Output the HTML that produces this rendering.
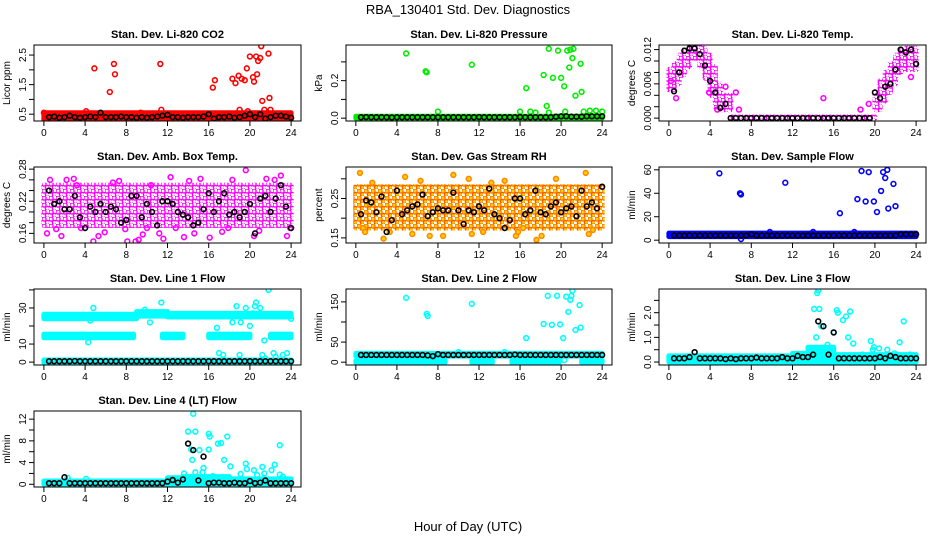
<!DOCTYPE html>
<html><head><meta charset="utf-8"><style>
body{margin:0;background:#fff;}
svg{display:block;font-family:"Liberation Sans",Arial,sans-serif;}
</style></head><body>
<svg id="chart" width="936" height="540" viewBox="0 0 936 540">
<defs>
<pattern id="pat-mag" width="7" height="7" patternUnits="userSpaceOnUse">
<circle cx="2" cy="2" r="2.1" fill="none" stroke="#ff00ff" stroke-width="1.4"/>
<circle cx="5.5" cy="5.5" r="2.1" fill="none" stroke="#ff00ff" stroke-width="1.4"/>
</pattern>
<pattern id="pat-org" width="7" height="7" patternUnits="userSpaceOnUse">
<circle cx="2" cy="2" r="2.1" fill="#ffd000" stroke="#ff7a00" stroke-width="1.4"/>
<circle cx="5.5" cy="5.5" r="2.1" fill="#ffd000" stroke="#ff5a00" stroke-width="1.4"/>
</pattern>
</defs>
<text x="468" y="14" text-anchor="middle" font-size="13">RBA_130401  Std. Dev. Diagnostics</text>
<text x="468" y="531" text-anchor="middle" font-size="13">Hour of Day (UTC)</text>
</svg>
<script>
// ---- data ----
const xTicks = [0,4,8,12,16,20,24];
const p1Band = [[0,24,0.3,0.55]];
const p1Out = [[4.9,2.05],[6.4,1.25],[6.8,2.2],[6.9,1.85],[11.3,2.2],[11.4,0.65],[16.4,1.4],[16.6,1.65],[18.3,1.7],[18.6,1.55],[18.9,1.8],[19.2,1.7],[19.5,1.65],[19.7,2.05],[20.0,2.45],[20.3,1.75],[20.4,1.6],[20.6,2.45],[20.7,1.85],[20.8,2.3],[21.0,2.4],[21.1,2.8],[21.2,0.95],[21.4,0.65],[21.8,2.55],[21.9,1.05],[22.0,0.65],[19.0,0.65],[19.8,0.6],[4.1,0.6],[9.4,0.55],[0,0.55]];
const p1Black = [0.4,0.42,0.38,0.4,0.45,0.4,0.38,0.4,0.42,0.4,0.55,0.4,0.4,0.4,0.42,0.4,0.4,0.38,0.4,0.38,0.4,0.42,0.45,0.48,0.4,0.4,0.38,0.4,0.4,0.4,0.42,0.5,0.35,0.4,0.4,0.42,0.38,0.4,0.45,0.5,0.4,0.5,0.35,0.4,0.45,0.45,0.42,0.38];

const p2Band = [[0,24,0,0.01]];
const p2Out = [[4.9,0.345],[6.8,0.25],[6.9,0.245],[8.0,0.035],[11.3,0.285],[16.0,0.035],[16.6,0.16],[17.0,0.035],[17.5,0.03],[18.3,0.23],[18.6,0.065],[18.8,0.37],[19.2,0.215],[19.7,0.36],[20.0,0.215],[20.3,0.17],[20.6,0.36],[20.8,0.27],[20.9,0.365],[21.1,0.32],[21.2,0.37],[21.4,0.12],[21.9,0.29],[22.0,0.14],[22.2,0.035],[22.8,0.04],[23.4,0.04],[24,0.035],[18.8,0.03],[20.4,0.035]];
const p2Black = [0.005,0.006,0.005,0.005,0.005,0.005,0.004,0.005,0.005,0.005,0.005,0.005,0.005,0.005,0.005,0.005,0.005,0.005,0.005,0.005,0.005,0.005,0.005,0.006,0.005,0.005,0.005,0.005,0.005,0.005,0.005,0.006,0.005,0.005,0.005,0.005,0.005,0.005,0.008,0.01,0.01,0.008,0.008,0.008,0.01,0.01,0.01,0.01];

const p3Band = [[0,0.5,0.005,0.0085],[0.5,1,0.006,0.0095],[1,1.5,0.0075,0.011],[1.5,2,0.009,0.012],[2,2.5,0.0105,0.0125],[2.5,3,0.0105,0.0125],[3,3.5,0.009,0.0122],[3.5,4,0.007,0.011],[4,4.5,0.004,0.009],[4.5,5,0.002,0.006],[5,6,0.0015,0.004],[6,20,0,0.0002],[20,20.5,0.0015,0.004],[20.5,21,0.003,0.0065],[21,21.5,0.0045,0.008],[21.5,22,0.006,0.0095],[22,22.5,0.008,0.011],[22.5,23,0.0085,0.012],[23,24,0.0085,0.0122]];
const p3Out = [[0.7,0.0035],[4.7,0.0015],[5.5,0.0055],[6.5,0.0045],[6.8,0.0015],[15,0.0035],[3.9,0.0045],[18.6,0.0015],[19.4,0.0025],[23.5,0.0072],[0.2,0.0065]];
const p3Black = [0.0047,0.008,0.0118,0.0122,0.0122,0.0112,0.0092,0.0065,0.0045,0.0018,0.0025,0,0,0,0,0,0,0,0,0,0,0,0,0,0,0,0,0,0,0,0,0,0,0,0,0,0,0,0,0.0045,0.0035,0.0055,0.006,0.0085,0.012,0.0115,0.012,0.0095];

const p4Band = [[0,24,0.175,0.25]];
const p4Out = [[0.3,0.16],[0.6,0.26],[1.2,0.168],[2.2,0.26],[2.9,0.262],[3.2,0.25],[4.8,0.145],[5.3,0.155],[5.9,0.162],[6.7,0.255],[7.3,0.258],[8.1,0.145],[8.9,0.145],[9.2,0.148],[9.6,0.158],[10.4,0.25],[11.2,0.16],[11.6,0.15],[12.3,0.265],[13.6,0.153],[14.1,0.258],[14.6,0.16],[15.2,0.262],[16.1,0.152],[17.3,0.163],[18.3,0.26],[19.6,0.278],[20.4,0.155],[21.6,0.262],[22.4,0.26],[23.0,0.268],[23.6,0.155],[23.9,0.17],[1.7,0.155],[7.9,0.168],[12.8,0.17],[17.9,0.17],[10,0.17],[3.6,0.17],[20.9,0.165]];
const p4Black = [0.24,0.215,0.22,0.205,0.205,0.23,0.19,0.17,0.21,0.2,0.215,0.2,0.21,0.205,0.18,0.185,0.23,0.23,0.19,0.215,0.2,0.175,0.22,0.22,0.215,0.2,0.195,0.19,0.175,0.18,0.205,0.235,0.2,0.22,0.235,0.195,0.2,0.19,0.2,0.215,0.16,0.225,0.23,0.2,0.225,0.25,0.21,0.17];

const p5Band = [[0,24,0.175,0.28]];
const p5Out = [[0.4,0.315],[0.7,0.175],[0.9,0.165],[2.7,0.148],[3.3,0.165],[4.8,0.305],[5.5,0.16],[7.2,0.155],[8.5,0.155],[9.5,0.31],[11,0.3],[11.3,0.16],[12.4,0.165],[13.2,0.29],[14.5,0.295],[15.6,0.155],[15.8,0.165],[16.3,0.175],[17.6,0.145],[18.1,0.155],[19.5,0.3],[22.4,0.315],[22.7,0.16],[23.1,0.17],[1.6,0.29],[6.3,0.295]];
const p5Black = [0.21,0.245,0.24,0.215,0.255,0.165,0.195,0.27,0.21,0.22,0.23,0.235,0.26,0.205,0.215,0.225,0.22,0.22,0.265,0.22,0.185,0.22,0.215,0.23,0.22,0.275,0.21,0.2,0.175,0.195,0.25,0.25,0.21,0.22,0.27,0.215,0.21,0.23,0.24,0.215,0.225,0.23,0.205,0.27,0.23,0.24,0.225,0.28];

const p6Band = [[0,24,3,6]];
const p6Out = [[4.9,57],[6.9,40],[7,39],[11.3,49],[16.6,23],[18.3,35],[18.7,59],[19.1,33],[19.4,58],[19.9,33],[20.2,24],[20.6,42],[20.8,58],[21.0,53],[21.2,60],[21.3,27],[21.8,48],[22.0,29],[7,1],[9.8,7],[14,7],[18,7]];
const p6Black = [4,4,4,4,4,4,4,4,4,4,4,4,4,4,4,5,4,4,4,4,4,4,4,4,4,4,4,4,4,4,4,4,4,4,4,4,4,4,4,4,4,4,4,4,5,5,5,5];

const p7Band = [[0,24,-0.3,1.2],[0,9,24,26.5],[9,12,25.5,28],[12,24,25,27],[0,8.7,13.5,15.5],[11.5,13.5,13.5,15.5],[16,20,13.5,15.5],[22,24,13.5,15.5]];
const p7Out = [[4.8,30],[4.5,23],[4.3,11],[9.8,29],[10.3,22],[11.4,33],[16.8,19],[17,5],[17.4,4],[18.3,22],[18.7,31],[19.0,4],[19.1,22],[19.6,30],[20.0,20],[20.3,27],[20.5,31],[20.6,33],[21.0,30],[21.2,4],[21.4,12],[21.8,40],[22.3,5],[22.5,3],[23.2,4],[23.6,5],[24,24],[21.5,2]];
const p7Black = [0.5,0.5,0.5,0.5,0.5,0.6,0.5,0.5,0.5,0.5,0.5,0.5,0.5,0.5,0.5,0.5,0.5,0.5,0.5,0.5,0.5,0.5,0.5,0.5,0.5,0.5,0.5,0.5,0.5,0.5,0.5,0.5,0.5,0.5,0.5,0.5,0.5,0.5,0.5,0.5,0.5,0.5,0.5,0.5,0.5,0.5,0.5,0.5];

const p8Band = [[0,24,15,22],[0,8.7,-1,4],[11.3,13.3,-1,4],[15.2,19.8,-1,4],[22,24,-1,4]];
const p8Out = [[4.9,160],[6.9,120],[7,115],[11.3,145],[16.6,60],[18.3,95],[18.7,165],[19.1,93],[19.6,165],[19.9,94],[20.2,60],[20.5,163],[20.7,125],[20.9,155],[21.0,165],[21.1,178],[21.4,80],[21.8,142],[21.9,86],[20.3,5],[10,25],[14.5,25]];
const p8Black = [18,18,18,18,18,18,18,18,18,18,18,18,18,17,15,20,18,18,18,18,18,18,18,18,18,18,18,18,18,18,19,18,18,18,18,18,18,18,18,18,18,18,18,18,18,18,18,18];

const p9Band = [[0,12,0,0.25],[12,13.5,0,0.35],[13.5,16,0,0.6],[16,24,0,0.3]];
const p9Out = [[14.1,2.15],[14.4,2.8],[14.5,2.9],[14.3,1.0],[14.6,2.15],[14.8,1.45],[15.2,0.55],[15.4,0.7],[16.0,1.2],[16.3,2.1],[16.4,2.0],[16.9,1.7],[17.2,1.85],[17.4,1.0],[17.6,2.05],[17.9,0.75],[19.6,0.85],[19.9,0.6],[20.4,0.55],[21.2,0.5],[22.4,0.8],[22.8,1.65],[23.4,0.3],[13.8,0.45],[19.8,0.5],[21.9,0.35],[18.8,0.3]];
const p9Black = [0.15,0.15,0.15,0.2,0.4,0.15,0.15,0.15,0.15,0.15,0.12,0.15,0.12,0.15,0.15,0.15,0.18,0.15,0.15,0.15,0.15,0.2,0.15,0.15,0.25,0.2,0.2,0.3,1.65,1.45,0.3,1.2,0.15,0.15,0.15,0.15,0.15,0.15,0.15,0.15,0.2,0.15,0.25,0.2,0.15,0.15,0.15,0.15];

const p10Band = [[0,12,0,0.6],[12,13.5,0,1.2],[13.5,18,0,1.4],[18,24,0,1.0]];
const p10Out = [[14.0,9.7],[14.3,6.4],[14.4,4.5],[14.5,13],[14.7,9.7],[14.7,2.2],[15.1,6.3],[15.4,2.2],[15.5,3.0],[16.0,6.4],[16.0,9.3],[16.1,8.8],[16.4,1.5],[16.9,7.5],[17.2,7.6],[17.5,4.5],[17.8,8.8],[18.1,3.3],[19.1,1.9],[19.6,3.8],[19.7,2.8],[20.4,2.6],[20.7,1.7],[21.2,3.2],[21.4,2.0],[22.1,2.6],[22.4,3.6],[22.9,7.2],[23.2,1.4],[22.9,1.8],[2.3,1.2],[4.1,1.0],[13.6,2.0]];
const p10Black = [0.2,0.2,0.2,1.3,0.2,0.2,0.2,0.2,0.2,0.2,0.2,0.2,0.2,0.2,0.2,0.2,0.2,0.2,0.2,0.2,0.2,0.2,0.2,0.5,0.8,0.3,0.9,7.5,6.3,0.7,5.1,0.2,0.3,0.3,0.2,0.2,0.3,0.2,0.2,0.6,0.2,0.3,0.7,0.2,0.2,0.2,0.2,0.2];

// ---- layout ----
const cols = [[34,301],[346,612],[659,926]];
const rows = [[45,121],[167,243],[289,365],[411,487]];
const panels = [
 {id:'co2',title:'Stan. Dev. Li-820 CO2',yl:'Licor ppm',col:0,row:0,ymin:0.27,ymax:2.84,ticks:[0.5,1,1.5,2,2.5],labs:['0.5','','1.5','','2.5'],color:'#ff0000',band:p1Band,out:p1Out,black:p1Black},
 {id:'pressure',title:'Stan. Dev. Li-820 Pressure',yl:'kPa',col:1,row:0,ymin:-0.015,ymax:0.39,ticks:[0,0.1,0.2,0.3],labs:['0.0','','0.2',''],color:'#00ee00',band:p2Band,out:p2Out,black:p2Black},
 {id:'temp',title:'Stan. Dev. Li-820 Temp.',yl:'degrees C',col:2,row:0,ymin:-0.0005,ymax:0.0128,ticks:[0,0.002,0.004,0.006,0.008,0.01,0.012],labs:['0.000','','','0.006','','','0.012'],color:'#ff00ff',fill:'url(#pat-mag)',band:p3Band,out:p3Out,black:p3Black},
 {id:'ambbox',title:'Stan. Dev. Amb. Box Temp.',yl:'degrees C',col:0,row:1,ymin:0.142,ymax:0.284,ticks:[0.16,0.18,0.2,0.22,0.24,0.26,0.28],labs:['0.16','','','0.22','','','0.28'],color:'#ff00ff',fill:'url(#pat-mag)',band:p4Band,out:p4Out,black:p4Black},
 {id:'rh',title:'Stan. Dev. Gas Stream RH',yl:'percent',col:1,row:1,ymin:0.137,ymax:0.33,ticks:[0.15,0.2,0.25,0.3],labs:['0.15','','0.25',''],color:'#ff8a00',fill:'url(#pat-org)',band:p5Band,out:p5Out,black:p5Black},
 {id:'sampleflow',title:'Stan. Dev. Sample Flow',yl:'ml/min',col:2,row:1,ymin:-2.4,ymax:62.4,ticks:[0,20,40,60],labs:['0','20','40','60'],color:'#0000ff',band:p6Band,out:p6Out,black:p6Black},
 {id:'line1',title:'Stan. Dev. Line 1 Flow',yl:'ml/min',col:0,row:2,ymin:-1.6,ymax:40.5,ticks:[0,10,20,30,40],labs:['0','10','','30',''],color:'#00ffff',band:p7Band,out:p7Out,black:p7Black},
 {id:'line2',title:'Stan. Dev. Line 2 Flow',yl:'ml/min',col:1,row:2,ymin:-7,ymax:182,ticks:[0,50,100,150],labs:['0','50','','150'],color:'#00ffff',band:p8Band,out:p8Out,black:p8Black},
 {id:'line3',title:'Stan. Dev. Line 3 Flow',yl:'ml/min',col:2,row:2,ymin:-0.12,ymax:2.96,ticks:[0,0.5,1,1.5,2,2.5],labs:['0.0','','1.0','','2.0',''],color:'#00ffff',band:p9Band,out:p9Out,black:p9Black},
 {id:'line4',title:'Stan. Dev. Line 4 (LT) Flow',yl:'ml/min',col:0,row:3,ymin:-0.5,ymax:13.5,ticks:[0,2,4,6,8,10,12],labs:['0','','4','','8','','12'],color:'#00ffff',band:p10Band,out:p10Out,black:p10Black}
];

const NS='http://www.w3.org/2000/svg';
const svg=document.getElementById('chart');
function mk(tag,attrs,parent,text){const e=document.createElementNS(NS,tag);for(const k in attrs)e.setAttribute(k,attrs[k]);if(text!==undefined)e.textContent=text;parent.appendChild(e);return e;}

panels.forEach(p=>{
 const [L,R]=cols[p.col],[T,B]=rows[p.row];
 const xMin=-0.96,xMax=24.96;
 const sx=v=>L+(v-xMin)/(xMax-xMin)*(R-L);
 const sy=v=>B-(v-p.ymin)/(p.ymax-p.ymin)*(B-T);
 const g=mk('g',{},svg);
 
 
 const t=mk('text',{x:(L+R)/2,y:T-7,'text-anchor':'middle','font-size':'11','font-weight':'bold'},g,p.title);
 
 
 const clip=mk('clipPath',{id:'c'+p.id},g);
 mk('rect',{x:L,y:T,width:R-L,height:B-T},clip);
 const marks=mk('g',{'clip-path':'url(#c'+p.id+')'},g);
 
 
 p.band.forEach(b=>{
  const x0=sx(b[0]),x1=sx(b[1]),y0=sy(b[3]),y1=sy(b[2]);
  const r=mk('rect',{x:x0-2.5,y:y0-2.5,width:x1-x0+5,height:Math.max(y1-y0,0)+5,fill:p.fill||p.color,rx:2.5},marks);
  
  
 });
 p.out.forEach(o=>{
  const c=mk('circle',{cx:sx(o[0]),cy:sy(o[1]),r:2.4,fill:p.id==='rh'?'#ffd000':'none',stroke:p.color,'stroke-width':1.6},marks);
  
  
 });
 p.black.forEach((v,i)=>{
  const c=mk('circle',{cx:sx(0.5*(i+1)),cy:sy(v),r:2.4,fill:'none',stroke:'#000','stroke-width':1.6},marks);
  
  
 });
 const box=mk('rect',{x:L,y:T,width:R-L,height:B-T,fill:'none',stroke:'#000','stroke-width':1},g);
 
 
 const xa=mk('g',{},g);
 
 
 xTicks.forEach(v=>{
  mk('line',{x1:sx(v),x2:sx(v),y1:B,y2:B+5,stroke:'#000'},xa);
  mk('text',{x:sx(v),y:B+15,'text-anchor':'middle','font-size':'10'},xa,String(v));
 });
 const ya=mk('g',{},g);
 
 
 p.ticks.forEach((v,i)=>{
  mk('line',{x1:L-5,x2:L,y1:sy(v),y2:sy(v),stroke:'#000'},ya);
  if(p.labs[i]) mk('text',{x:L-8,y:sy(v),'text-anchor':'middle','font-size':'10',transform:'rotate(-90 '+(L-8)+' '+sy(v)+')'},ya,p.labs[i]);
 });
 const yt=mk('text',{x:L-24,y:(T+B)/2,'text-anchor':'middle','font-size':'10',transform:'rotate(-90 '+(L-24)+' '+((T+B)/2)+')'},g,p.yl);
 
 
});
</script>
</body></html>
